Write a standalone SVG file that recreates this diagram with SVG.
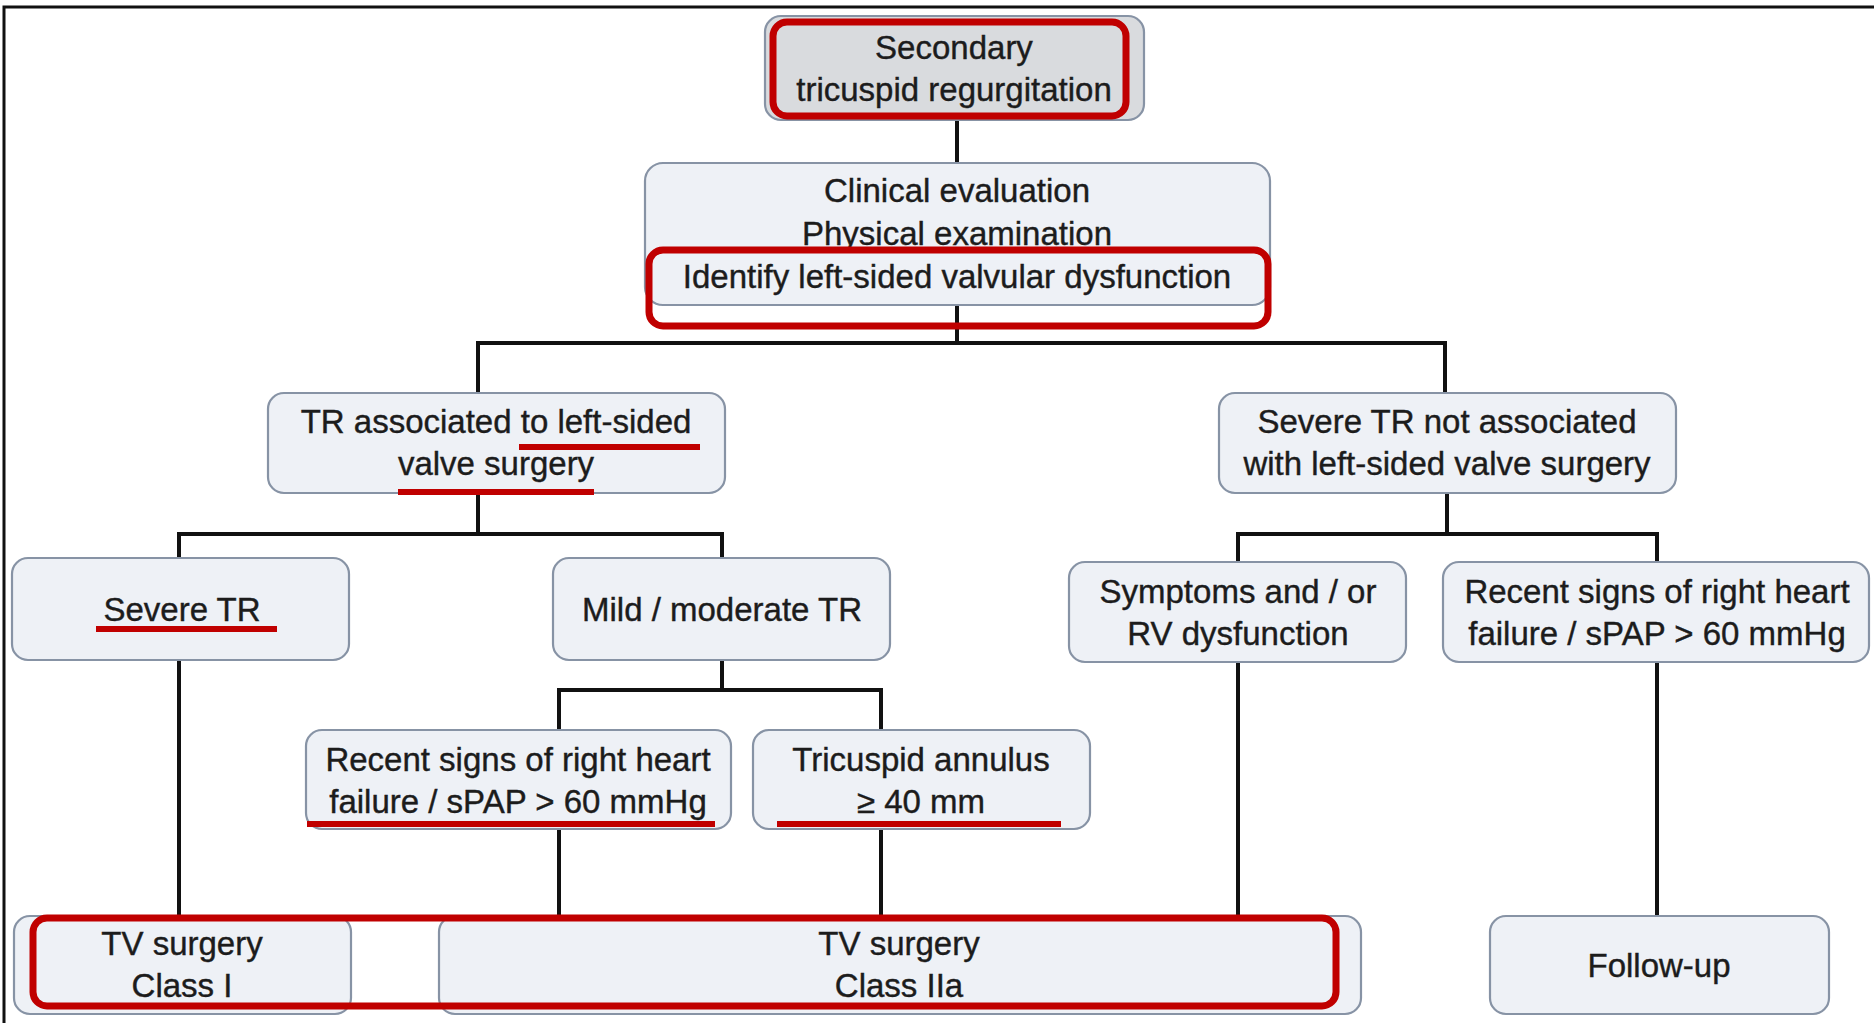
<svg xmlns="http://www.w3.org/2000/svg" width="1874" height="1023" viewBox="0 0 1874 1023">
  <style>
    .node { fill: #eef1f6; stroke: #8793a5; stroke-width: 2.2; }
    .node-top { fill: #d9dbde; stroke: #8793a5; stroke-width: 2.2; }
    .hl { fill: none; stroke: #c00000; stroke-width: 7; }
    .ul { stroke: #c00000; stroke-width: 6; }
    .wire { fill: none; stroke: #111; stroke-width: 4; }
    text { font-family: "Liberation Sans", Arial, sans-serif; font-size: 33px; fill: #1c1c1c; stroke: #1c1c1c; stroke-width: 0.4; text-anchor: middle; }
  </style>

  <!-- frame -->
  <path d="M4,1023 V7 H1874" fill="none" stroke="#111" stroke-width="3"/>

  <!-- connectors -->
  <g id="connectors" class="wire">
    <path d="M957,121 V163"/>
    <path d="M957,305 V343 M478,343 H1445 M478,341 V392 M1445,341 V392"/>
    <path d="M478,492 V534 M179,534 H722 M179,532 V558 M722,532 V558"/>
    <path d="M722,659 V690 M559,690 H881 M559,688 V730 M881,688 V730"/>
    <path d="M179,659 V916"/>
    <path d="M559,829 V916 M881,829 V916"/>
    <path d="M1447,492 V534 M1238,534 H1657 M1238,532 V562 M1657,532 V562"/>
    <path d="M1238,661 V916 M1657,661 V916"/>
  </g>

  <!-- top node -->
  <g id="secondary-tr">
    <rect class="node-top" x="765" y="16" width="379" height="104" rx="16"/>
    <text x="954" y="59">Secondary</text>
    <text x="954" y="101">tricuspid regurgitation</text>
    <rect class="hl" x="773" y="22" width="353" height="94" rx="14"/>
  </g>

  <g id="clinical-evaluation">
    <rect class="node" x="645" y="163" width="625" height="142" rx="18"/>
    <text x="957" y="202">Clinical evaluation</text>
    <text x="957" y="245">Physical examination</text>
    <text x="957" y="288">Identify left-sided valvular dysfunction</text>
    <rect class="hl" x="649" y="250" width="619" height="76" rx="14"/>
  </g>

  <g id="tr-with-left-surgery">
    <rect class="node" x="268" y="393" width="457" height="100" rx="16"/>
    <text x="496" y="433">TR associated to left-sided</text>
    <text x="496" y="475">valve surgery</text>
    <line class="ul" x1="519" y1="447" x2="700" y2="447"/>
    <line class="ul" x1="398" y1="492" x2="594" y2="492"/>
  </g>

  <g id="tr-without-left-surgery">
    <rect class="node" x="1219" y="393" width="457" height="100" rx="16"/>
    <text x="1447" y="433">Severe TR not associated</text>
    <text x="1447" y="475">with left-sided valve surgery</text>
  </g>

  <g id="severe-tr">
    <rect class="node" x="12" y="558" width="337" height="102" rx="16"/>
    <text x="182" y="621">Severe TR</text>
    <line class="ul" x1="96" y1="629" x2="277" y2="629"/>
  </g>

  <g id="mild-moderate-tr">
    <rect class="node" x="553" y="558" width="337" height="102" rx="16"/>
    <text x="722" y="621">Mild / moderate TR</text>
  </g>

  <g id="symptoms-rv">
    <rect class="node" x="1069" y="562" width="337" height="100" rx="16"/>
    <text x="1238" y="603">Symptoms and / or</text>
    <text x="1238" y="645">RV dysfunction</text>
  </g>

  <g id="right-hf-right">
    <rect class="node" x="1443" y="562" width="426" height="100" rx="16"/>
    <text x="1657" y="603">Recent signs of right heart</text>
    <text x="1657" y="645">failure / sPAP &gt; 60 mmHg</text>
  </g>

  <g id="right-hf-left">
    <rect class="node" x="306" y="730" width="425" height="99" rx="16"/>
    <text x="518" y="771">Recent signs of right heart</text>
    <text x="518" y="813">failure / sPAP &gt; 60 mmHg</text>
    <line class="ul" x1="307" y1="824" x2="715" y2="824"/>
  </g>

  <g id="tricuspid-annulus">
    <rect class="node" x="753" y="730" width="337" height="99" rx="16"/>
    <text x="921" y="771">Tricuspid annulus</text>
    <text x="921" y="813">≥ 40 mm</text>
    <line class="ul" x1="777" y1="824" x2="1061" y2="824"/>
  </g>

  <g id="tv-surgery-class-i">
    <rect class="node" x="14" y="916" width="337" height="98" rx="16"/>
    <text x="182" y="955">TV surgery</text>
    <text x="182" y="997">Class I</text>
  </g>

  <g id="tv-surgery-class-iia">
    <rect class="node" x="439" y="916" width="922" height="98" rx="16"/>
    <text x="899" y="955">TV surgery</text>
    <text x="899" y="997">Class IIa</text>
  </g>

  <g id="follow-up">
    <rect class="node" x="1490" y="916" width="339" height="98" rx="16"/>
    <text x="1659" y="977">Follow-up</text>
  </g>

  <!-- surgery recommendations highlight -->
  <rect class="hl" x="33" y="918" width="1303" height="88" rx="14"/>
</svg>
